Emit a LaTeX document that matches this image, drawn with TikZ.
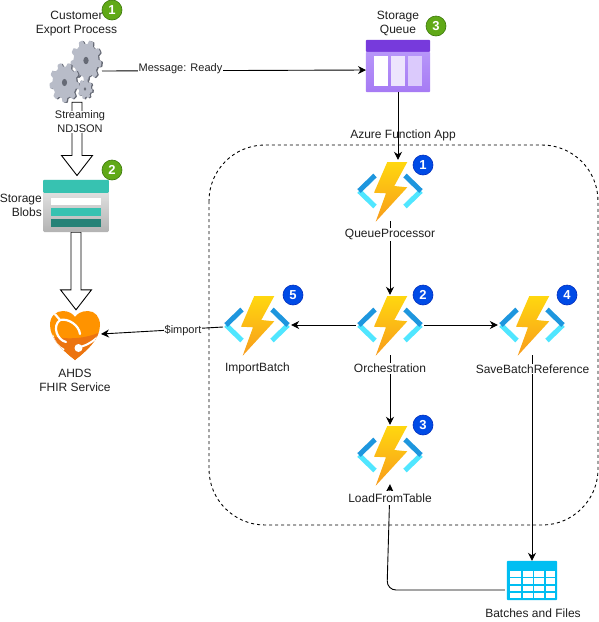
\documentclass[tikz,border=0pt]{standalone}
\usepackage{fontspec}
\setmainfont{Liberation Sans}
\usetikzlibrary{arrows.meta,calc}
\definecolor{boltTop}{HTML}{FFD70F}
\definecolor{boltBot}{HTML}{F89B1C}
\definecolor{chevDark}{HTML}{1E96DE}
\definecolor{chevLight}{HTML}{50E6FF}
\definecolor{qHead}{HTML}{773ADC}
\definecolor{qTop}{HTML}{B796F9}
\definecolor{qBot}{HTML}{A67AF4}
\definecolor{teal}{HTML}{37C2B1}
\definecolor{tealDark}{HTML}{258277}
\definecolor{tableBlue}{HTML}{00BEF2}
\definecolor{gearFace}{HTML}{B8BCC8}
\definecolor{gearEdge}{HTML}{666A75}
\definecolor{heartTop}{HTML}{FF9300}
\definecolor{heartBot}{HTML}{EC7410}
\tikzset{
  x=1pt,y=-1pt,
  lbl/.style={font=\fontsize{12}{14.6}\selectfont,align=center,inner sep=1pt,text=black!88},
  lblw/.style={lbl,fill=white},
  lbls/.style={lblw,font=\fontsize{11}{14}\selectfont},
  slot/.style={inner sep=0pt,minimum width=68pt,minimum height=60pt},
  bluebadge/.style={circle,fill={rgb,255:red,0;green,75;blue,230},draw={rgb,255:red,0;green,45;blue,190},line width=.6pt,minimum size=20pt,inner sep=0pt,text=white,font=\fontsize{13}{13}\selectfont\bfseries},
  greenbadge/.style={bluebadge,fill={rgb,255:red,96;green,169;blue,23},draw={rgb,255:red,60;green,120;blue,10}},
  flow/.style={draw=black,line width=.9pt,-{Stealth[length=8pt,width=8pt]}},
  hollowline/.style={draw=black,line width=.9pt,fill=white},
  funcpic/.pic={
    \draw[chevLight,line width=5pt] (-31,0) -- (-15,15.5);
    \draw[chevDark,line width=5pt] (-15,-15.5) -- (-31,0);
    \draw[chevLight,line width=5pt] (31,0) -- (15,15.5);
    \draw[chevDark,line width=5pt] (15,-15.5) -- (31,0);
    \shade[top color=boltTop,bottom color=boltBot] (-2.7,-29) -- (17.3,-29) -- (4.3,-5) -- (17.3,-3.7) -- (-14.3,30.7) -- (-4,2.3) -- (-16,1.7) -- cycle;
  }
}
\newcommand\gearshape[5]{%
  \fill[#5] plot[domain=0:360,samples=144,smooth] ({#1+#3*(0.9+0.1*max(min(2.5*sin(#4*\x),1),-1))*cos(\x)},{#2+1.32*#3*(0.9+0.1*max(min(2.5*sin(#4*\x),1),-1))*sin(\x)}) -- cycle;
}
\newcommand\gearicon[4]{%
  \gearshape{#1+1.4}{#2+.5}{#3}{#4}{gearEdge}
  \gearshape{#1}{#2}{#3}{#4}{gearFace}
  \fill[gearEdge] (#1,#2) ellipse ({#3*.17} and {#3*.24});
}
\newcommand\hollowarrow[2]{%
  \draw[hollowline,line join=miter] let \p1=#1,\p2=#2 in
    (\x1-5pt,\y1) -- (\x1+5pt,\y1) -- (\x1+5pt,\y2+20pt) -- (\x1+15.5pt,\y2+20pt)
    -- (\x1,\y2) -- (\x1-15.5pt,\y2+20pt) -- (\x1-5pt,\y2+20pt) -- cycle;
}
\begin{document}
\begin{tikzpicture}
\useasboundingbox (0,0) rectangle (599,622);
\fill[white] (0,0) rectangle (599,622);

% group
\draw[black,line width=.9pt,dash pattern=on 3pt off 3pt,rounded corners=56pt] (209,145) rectangle (598,525);

% anchors for icons
\node[inner sep=0,minimum width=54pt,minimum height=62pt] (gears) at (77,71) {};
\node[inner sep=0,minimum width=65.4pt,minimum height=52pt] (blob) at (76,206) {};
\node[inner sep=0,minimum width=50pt,minimum height=49pt] (fhir) at (75,335.5) {};
\node[inner sep=0,minimum width=64pt,minimum height=52pt] (queue) at (398,66) {};
\node[slot] (qp) at (390,191) {};
\node[slot] (orch) at (390,325) {};
\node[slot] (save) at (532,325) {};
\node[slot] (imp) at (257,325) {};
\node[slot] (load) at (390,455) {};
\node[inner sep=0,minimum width=50pt,minimum height=39pt] (table) at (532,580.5) {};

% hollow arrows
\hollowarrow{(gears.south)}{([yshift=4.3pt]blob.north)}
\hollowarrow{(blob.south)}{([yshift=1pt]fhir.north)}

% gears
\gearicon{86}{60.5}{15.5}{9}
\gearicon{64.5}{82.5}{15}{9}
\gearicon{85}{89}{7.5}{8}

% blob
\begin{scope}
\shade[top color=black!7,bottom color=black!30,rounded corners=1.5pt] (blob.north west) rectangle (blob.south east);
\fill[teal,rounded corners=1pt] (blob.north west) rectangle ($(blob.north east)+(0,13)$);
\fill[white] (51.3,198) rectangle (100.7,205);
\fill[teal] (51.3,208) rectangle (100.7,216);
\fill[tealDark] (51.3,219) rectangle (100.7,227);
\end{scope}

% heart
\begin{scope}
\path[save path=\heartpath] (75,360) .. controls (65,352) and (50,340) .. (50,325)
  .. controls (50,316) and (56,311) .. (63,311)
  .. controls (69,311) and (73,314) .. (75,317)
  .. controls (77,314) and (81,311) .. (88,311)
  .. controls (95,311) and (100,317) .. (100,325)
  .. controls (100,340) and (85,352) .. (75,360) -- cycle;
\fill[heartTop,use path=\heartpath];
\begin{scope}
\clip[use path=\heartpath];
\fill[heartBot] (45,335) .. controls (65,340) and (85,340) .. (105,330) -- (105,365) -- (45,365) -- cycle;
\draw[white,line width=2.2pt,line cap=round] (54,313) -- (60,320) .. controls (52,326) and (57,340) .. (66,342);
\draw[white,line width=2.2pt,line cap=round] (60,320) .. controls (68,318) and (79,325) .. (80,334);
\draw[white,line width=2.2pt] (52,335) .. controls (54,342) and (58,347) .. (64,350);
\draw[white,line width=2pt] (80,347) .. controls (88,345) and (95,340) .. (101,334);
\fill[white] (78.5,348) circle (4);
\end{scope}
\end{scope}

% queue
\fill[qHead,rounded corners=1pt] (queue.north west) rectangle ($(queue.north east)+(0,12)$);
\shade[top color=qTop,bottom color=qBot,rounded corners=1pt] ($(queue.north west)+(0,12)$) rectangle (queue.south east);
\fill[white] (374,56) rectangle (388,86);
\fill[qTop!25!white] (391,56) rectangle (405,86);
\fill[qTop!50!white] (408,56) rectangle (422,86);

% table
\fill[tableBlue,rounded corners=1pt] (table.north west) rectangle (table.south east);
\foreach \xa/\xb in {510/521,522.5/532.5,534/544,545.5/555}
  \foreach \ya/\yb in {571/576.7,578.3/584,585.7/591,592.7/598}
    \fill[white] (\xa,\ya) rectangle (\xb,\yb);

% functions
\pic at (qp) {funcpic};
\pic at (orch) {funcpic};
\pic at (save) {funcpic};
\pic at (imp) {funcpic};
\pic at (load) {funcpic};

% connectors
\coordinate (msgStart) at (102,71);
\coordinate (queueIn) at (366,70);
\coordinate (impOut) at (223,327);
\coordinate (fhirIn) at (101,334);
\coordinate (corner) at (387,590);
\draw[flow] (msgStart) -- (queueIn);
\draw[flow] (queue.south) -- ([yshift=1pt]qp.north-|queue.south);
\draw[flow] (qp.south) -- (orch.north);
\draw[flow] (orch.east) -- (save.west);
\draw[flow] (orch.west) -- (imp.east);
\draw[flow] (orch.south) -- (load.north);
\draw[flow] (save.south) -- (table.north);
\draw[flow] (impOut) -- (fhirIn);
\draw[flow,rounded corners=9pt] ([xshift=-2pt]table.west|-0,590) -- (corner) -- ([yshift=1pt]load.south);

% labels
\node[lbl] (tcust) at (76.5,23.5) {Customer\\Export Process};
\node[lbls] (tmsg) at (180.5,69) {Message: Ready};
\node[lbl] (tqueue) at (398,23.5) {Storage\\Queue};
\node[lbls,inner sep=0pt] (tstream) at (80,122) {Streaming\\NDJSON};
\node[lbl,align=right,anchor=east] (tblob) at (43,205.5) {Storage\\Blobs};
\node[lbl] (tfhir) at (75,380.5) {AHDS\\FHIR Service};
\node[lbls] (timport) at (183,331) {\$import};
\node[lbl] (tapp) at (403,135) {Azure Function App};
\node[lblw] (tqp) at (390,234.5) {QueueProcessor};
\node[lblw] (torch) at (390,368.5) {Orchestration};
\node[lblw] (tsave) at (532.5,369) {SaveBatchReference};
\node[lbl] (timpb) at (257.5,368.5) {ImportBatch};
\node[lblw,minimum height=14pt] (tload) at (390,498) {LoadFromTable};
\node[lbl] (ttable) at (533,613.5) {Batches and Files};

% badges
\node[greenbadge] (g1) at (112,10) {1};
\node[greenbadge] (g2) at (112,170) {2};
\node[greenbadge] (g3) at (436,26) {3};
\node[bluebadge] (b1) at (423,165) {1};
\node[bluebadge] (b2) at (423,295) {2};
\node[bluebadge] (b3) at (423,425) {3};
\node[bluebadge] (b4) at (567,295) {4};
\node[bluebadge] (b5) at (293,295) {5};
\end{tikzpicture}
\end{document}
